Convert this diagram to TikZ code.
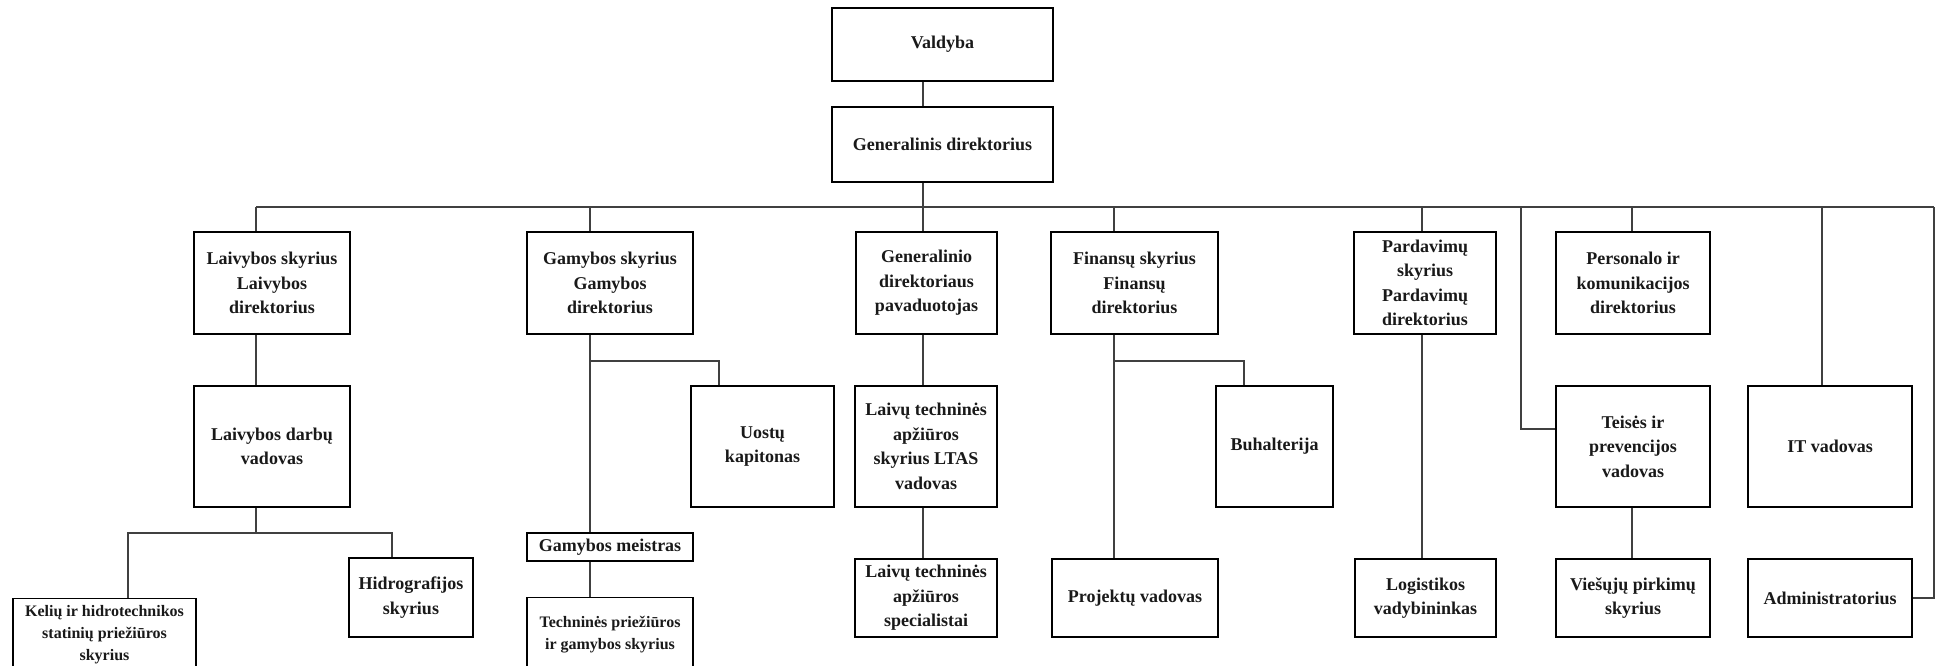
\documentclass[tikz,border=0pt]{standalone}
\usepackage{fontspec}
\setmainfont{Liberation Serif}
\begin{document}
\begin{tikzpicture}[x=1pt,y=-1pt,
  box/.style={draw=black, line width=1.3pt, align=center, inner sep=2pt,
    font=\bfseries\fontsize{18}{24.5}\selectfont, text=black!90},
  small/.style={font=\bfseries\fontsize{16}{22}\selectfont},
  link/.style={draw=black!75, line width=1.1pt}]
\useasboundingbox (0,0) rectangle (1939,666);
\clip (0,0) rectangle (1939,666);
% top
\node[box, minimum width=221pt, minimum height=73pt] (val) at (942.5,44.5) {Valdyba};
\node[box, minimum width=221pt, minimum height=75pt] (gd) at (942.5,144.5) {Generalinis direktorius};
% first row
\node[box, minimum width=156pt, minimum height=102pt] (laiv) at (272,283) {Laivybos skyrius\\Laivybos\\direktorius};
\node[box, minimum width=166pt, minimum height=102pt] (gam) at (610,283) {Gamybos skyrius\\Gamybos\\direktorius};
\node[box, minimum width=141pt, minimum height=102pt] (gdp) at (926.5,283) {Generalinio\\direktoriaus\\pavaduotojas};
\node[box, minimum width=167pt, minimum height=102pt] (fin) at (1134.5,283) {Finansų skyrius\\Finansų\\direktorius};
\node[box, minimum width=142pt, minimum height=102pt] (pard) at (1425,283) {Pardavimų\\skyrius\\Pardavimų\\direktorius};
\node[box, minimum width=154pt, minimum height=102pt] (pers) at (1633,283) {Personalo ir\\komunikacijos\\direktorius};
% second row
\node[box, minimum width=156pt, minimum height=121pt] (ldv) at (272,446.5) {Laivybos darbų\\vadovas};
\node[box, minimum width=143pt, minimum height=121pt] (uost) at (762.5,446.5) {Uostų\\kapitonas};
\node[box, minimum width=142pt, minimum height=121pt] (ltas) at (926,446.5) {Laivų techninės\\apžiūros\\skyrius LTAS\\vadovas};
\node[box, minimum width=117pt, minimum height=121pt] (buh) at (1274.5,446.5) {Buhalterija};
\node[box, minimum width=154pt, minimum height=121pt] (teis) at (1633,446.5) {Teisės ir\\prevencijos\\vadovas};
\node[box, minimum width=164pt, minimum height=121pt] (it) at (1830,446.5) {IT vadovas};
% third row
\node[box, minimum width=124pt, minimum height=79pt] (hidro) at (411,597.5) {Hidrografijos\\skyrius};
\node[box, minimum width=166pt, minimum height=28pt, inner sep=1pt] (mei) at (610,547) {Gamybos meistras};
\node[box, minimum width=142pt, minimum height=78pt] (spec) at (926,598) {Laivų techninės\\apžiūros\\specialistai};
\node[box, minimum width=166pt, minimum height=78pt] (proj) at (1135,598) {Projektų vadovas};
\node[box, minimum width=141pt, minimum height=78pt] (log) at (1425.5,598) {Logistikos\\vadybininkas};
\node[box, minimum width=154pt, minimum height=78pt] (vies) at (1633,598) {Viešųjų pirkimų\\skyrius};
\node[box, minimum width=164pt, minimum height=78pt] (admin) at (1830,598) {Administratorius};
\node[box, small, minimum width=183pt, anchor=north, inner ysep=7pt, text depth=30pt] (kel) at (104.5,598) {Kelių ir hidrotechnikos\\statinių priežiūros\\skyrius};
\node[box, small, minimum width=166pt, anchor=north, inner ysep=19pt, text depth=30pt] (tech) at (610,597) {Techninės priežiūros\\ir gamybos skyrius};
% bus coordinates
\coordinate (bL) at (256,207);
\coordinate (bG) at (590,207);
\coordinate (bC) at (923,207);
\coordinate (bF) at (1114,207);
\coordinate (bP) at (1422,207);
\coordinate (bT) at (1521,207);
\coordinate (bPe) at (1632,207);
\coordinate (bI) at (1822,207);
\coordinate (bR) at (1934,207);
\coordinate (sL) at (256,533);
\coordinate (sLa) at (128,533);
\coordinate (sLb) at (392,533);
\coordinate (sG) at (590,361);
\coordinate (sU) at (719,361);
\coordinate (sF) at (1114,361);
\coordinate (sB) at (1244,361);
% connectors
\draw[link] (bL) -- (bR);
\draw[link] (val.south -| bC) -- (gd.north -| bC);
\draw[link] (gd.south -| bC) -- (bC);
\draw[link] (bL) -- (laiv.north -| bL);
\draw[link] (bG) -- (gam.north -| bG);
\draw[link] (bC) -- (gdp.north -| bC);
\draw[link] (bF) -- (fin.north -| bF);
\draw[link] (bP) -- (pard.north -| bP);
\draw[link] (bPe) -- (pers.north -| bPe);
\draw[link] (bI) -- (it.north -| bI);
\draw[link] (bT) |- ([yshift=17.5pt]teis.west);
\draw[link] (bR) |- (admin.east);
% Laivybos
\draw[link] (laiv.south -| bL) -- (ldv.north -| bL);
\draw[link] (ldv.south -| sL) -- (sL);
\draw[link] (kel.north -| sLa) -- (sLa) -- (sLb) -- (hidro.north -| sLb);
% Gamybos
\draw[link] (gam.south -| bG) -- (mei.north -| bG);
\draw[link] (sG) -- (sU) -- (uost.north -| sU);
\draw[link] (mei.south -| bG) -- (tech.north -| bG);
% Generalinio pavaduotojas
\draw[link] (gdp.south -| bC) -- (ltas.north -| bC);
\draw[link] (ltas.south -| bC) -- (spec.north -| bC);
% Finansu
\draw[link] (fin.south -| bF) -- (proj.north -| bF);
\draw[link] (sF) -- (sB) -- (buh.north -| sB);
% Pardavimu
\draw[link] (pard.south -| bP) -- (log.north -| bP);
% Teises
\draw[link] (teis.south -| bPe) -- (vies.north -| bPe);
\end{tikzpicture}
\end{document}
